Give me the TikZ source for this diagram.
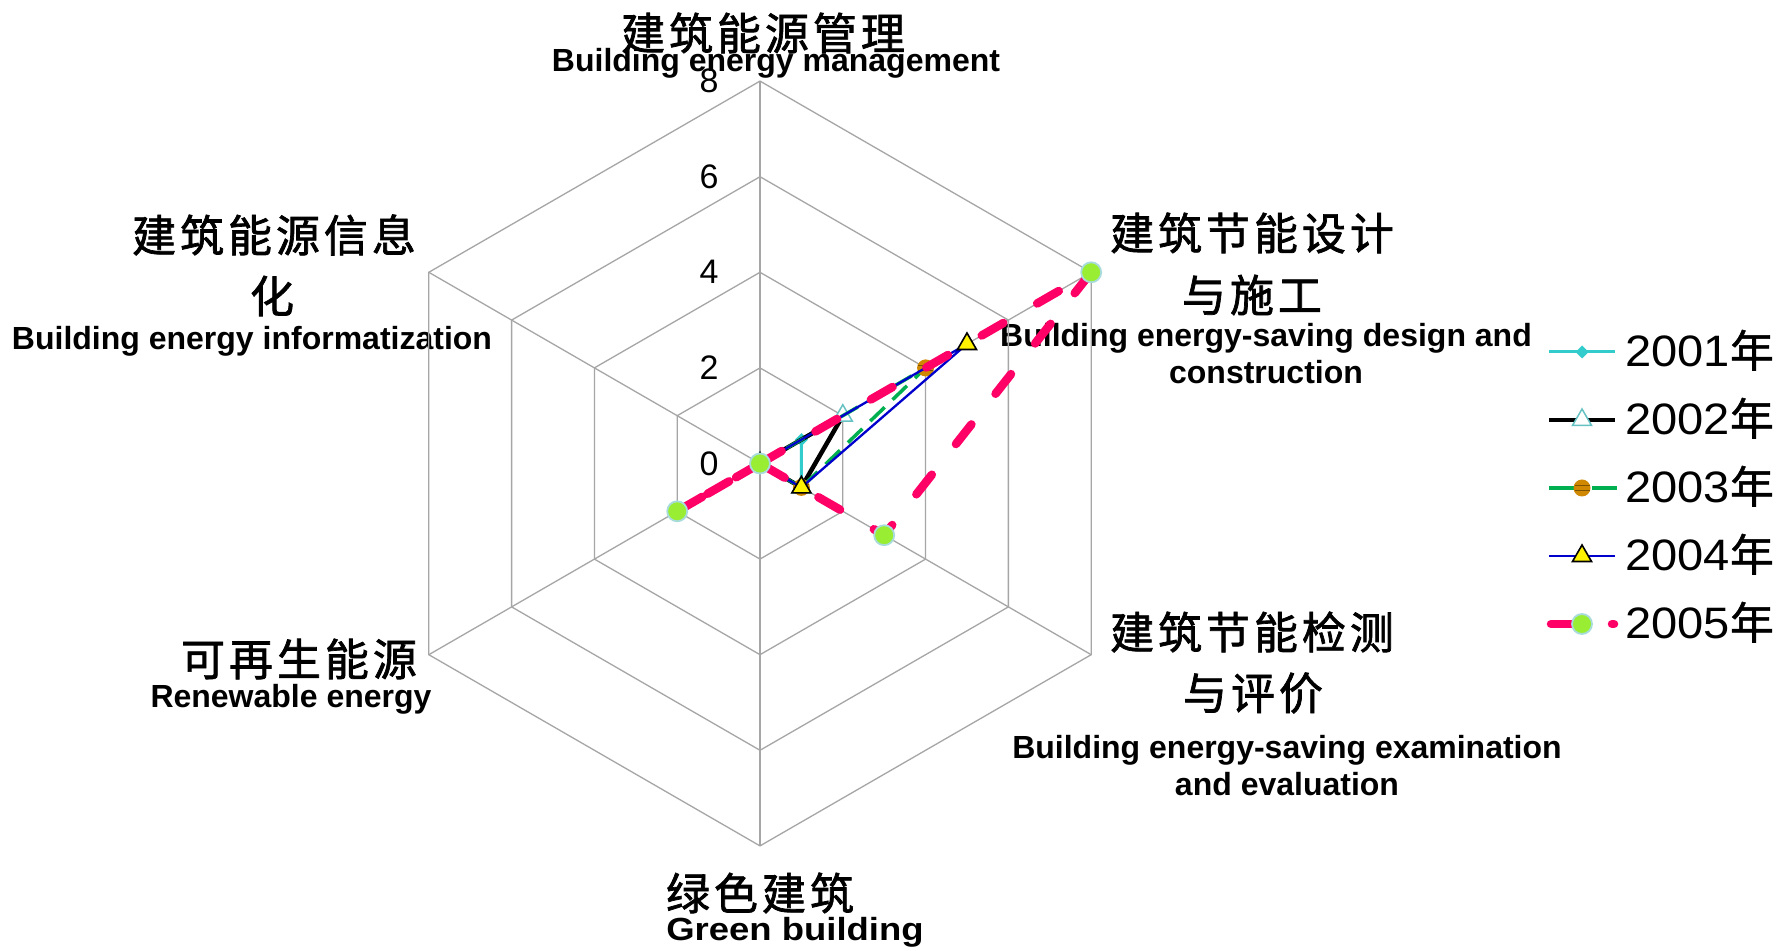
\documentclass[tikz,border=0pt]{standalone}
\usepackage{fontspec}
\setmainfont{Liberation Sans}
\newfontfamily\cjk[LetterSpace=9,FakeBold=1.6]{Noto Sans CJK SC}
\newfontfamily\cjkl[FakeBold=1.2]{Noto Sans CJK SC}
\newfontfamily\legfont[FakeStretch=1.07]{Liberation Sans}
\definecolor{gridc}{HTML}{A6A6A6}
\definecolor{c01}{HTML}{33CCCC}
\definecolor{c03}{HTML}{00B050}
\definecolor{c04}{HTML}{0000CC}
\definecolor{c05}{HTML}{FF0066}
\definecolor{dotg}{HTML}{99EE33}
\definecolor{dotrim}{HTML}{A8DCDC}
\definecolor{orng}{HTML}{D08800}
\definecolor{tri2}{HTML}{66C2C2}
\newcommand\mkA[1]{\fill[c01] (#1) +(0,-6.5) -- +(6.5,0) -- +(0,6.5) -- +(-6.5,0) -- cycle;}
\newcommand\mkB[1]{\draw[tri2,fill=white,line width=1.5pt] (#1) +(90:11) -- +(210:11) -- +(330:11) -- cycle;}
\newcommand\mkC[1]{\fill[orng] (#1) circle (8.5); \draw[orng!60!black,line width=0.8pt] (#1) +(-7.5,2.8) -- +(7.5,2.8) +(-7.5,-2.8) -- +(7.5,-2.8);}
\newcommand\mkD[1]{\draw[black,fill=yellow,line width=1.6pt,line join=miter] (#1) +(90:11) -- +(210:11) -- +(330:11) -- cycle;}
\newcommand\mkE[1]{\draw[dotrim,fill=dotg,line width=1.8pt] (#1) circle (10);}
\begin{document}
\begin{tikzpicture}[x=1pt,y=1pt,
  grid/.style={draw=gridc,line width=1.3pt},
  zh/.style={font=\cjk\fontsize{44}{50}\selectfont, inner sep=0pt},
  en/.style={font=\bfseries\fontsize{32}{37}\selectfont, inner sep=0pt, anchor=base},
  num/.style={font=\fontsize{34}{40}\selectfont, inner sep=0pt},
  leg/.style={font=\legfont\fontsize{44}{50}\selectfont, inner sep=0pt, anchor=base west},
  s1/.style={draw=c01,line width=3pt,line join=round},
  s2/.style={draw=black,line width=4.5pt,line join=round},
  s3/.style={draw=c03,line width=3.5pt,dash pattern=on 20pt off 11pt},
  s4/.style={draw=c04,line width=2.3pt,line join=round},
  s5/.style={draw=c05,line width=8.5pt,line cap=round,line join=round,dash pattern=on 25pt off 39pt}]
\fill[white] (0,0) rectangle (1779,950);
\useasboundingbox (0,0) rectangle (1779,950);

% labels
\node[zh] (t1) at (763,917) {建筑能源管理};
\node[en] (t2) at (776,878) {Building energy management};
\node[zh] (ul1) at (274,715) {建筑能源信息};
\node[zh] (ul2) at (272,654) {化};
\node[en] (ul3) at (252,600) {Building energy informatization};
\node[zh] (ur1) at (1252,717) {建筑节能设计};
\node[zh] (ur2) at (1252,655) {与施工};
\node[en] (ur3) at (1266,603) {Building energy-saving design and};
\node[en] (ur4) at (1266,566) {construction};
\node[zh] (lr1) at (1252,318) {建筑节能检测};
\node[zh] (lr2) at (1253,257) {与评价};
\node[en] (lr3) at (1287,191) {Building energy-saving examination};
\node[en] (lr4) at (1287,154) {and evaluation};
\node[zh] (ll1) at (299,291) {可再生能源};
\node[en] (ll2) at (291,242) {Renewable energy};
\node[zh] (b1) at (760,57) {绿色建筑};
\node[en] (b2) at (795,10) {\scalebox{1.14}[1]{Green building}};

\begin{scope}[shift={(760,486.5)}]
\coordinate (O) at (0,0);
\foreach \r in {95.6,191.2,286.8,382.4}
  \draw[grid] (90:\r) -- (30:\r) -- (-30:\r) -- (-90:\r) -- (210:\r) -- (150:\r) -- cycle;
\foreach \a in {90,30,-30,-90,210,150}
  \draw[grid] (O) -- (\a:382.4);
\foreach \v/\n in {0/0,2/95.6,4/191.2,6/286.8,8/382.4}
  \node[num] (n\v) at (-51,\n) {\v};
% data points
\coordinate (a1) at (30:47.8);  \coordinate (a2) at (-30:47.8);
\coordinate (b1) at (30:95.6);  \coordinate (b2) at (-30:47.8);
\coordinate (c1) at (30:191.2); \coordinate (c2) at (-30:47.8);
\coordinate (d1) at (30:239);   \coordinate (d2) at (-30:47.8);
\coordinate (e1) at (30:382.4); \coordinate (e2) at (-30:143.4); \coordinate (e3) at (210:95.6);
% 2001
\draw[s1] (O) -- (a1) -- (a2) -- (O);
\mkA{O} \mkA{a1} \mkA{a2}
% 2002
\draw[s2] (O) -- (b1) -- (b2) -- (O);
\mkB{O} \mkB{b1} \mkB{b2}
% 2003
\draw[s3] (O) -- (c1) -- (c2) -- (O);
\mkC{O} \mkC{c1} \mkC{c2}
% 2004
\draw[s4] (O) -- (d1) -- (d2) -- (O);
\mkD{O} \mkD{d1} \mkD{d2}
% 2005
\draw[s5] (O) -- (e1) -- (e2) -- (O) -- (e3) -- (O);
\mkE{O} \mkE{e1} \mkE{e2} \mkE{e3}
\end{scope}

% legend
\coordinate (l1a) at (1549,598); \coordinate (l1b) at (1615,598); \coordinate (l1m) at (1582,598);
\coordinate (l2a) at (1549,530); \coordinate (l2b) at (1615,530); \coordinate (l2m) at (1582,530);
\coordinate (l3a) at (1549,462); \coordinate (l3b) at (1617,462); \coordinate (l3m) at (1582,462);
\coordinate (l4a) at (1549,394); \coordinate (l4b) at (1615,394); \coordinate (l4m) at (1582,394);
\coordinate (l5a) at (1551,326); \coordinate (l5b) at (1614,326); \coordinate (l5m) at (1582,326);
\draw[s1] (l1a) -- (l1b); \mkA{l1m}
\draw[s2] (l2a) -- (l2b); \mkB{l2m}
\draw[s3,dash pattern=on 30pt off 13pt] (l3a) -- (l3b); \mkC{l3m}
\draw[s4] (l4a) -- (l4b); \mkD{l4m}
\draw[s5,dash pattern=on 25pt off 36pt] (l5a) -- (l5b); \mkE{l5m}
\node[leg] (g1) at (1625,583) {2001\cjkl 年};
\node[leg] (g2) at (1625,515) {2002\cjkl 年};
\node[leg] (g3) at (1625,447) {2003\cjkl 年};
\node[leg] (g4) at (1625,379) {2004\cjkl 年};
\node[leg] (g5) at (1625,311) {2005\cjkl 年};
\end{tikzpicture}
\end{document}
